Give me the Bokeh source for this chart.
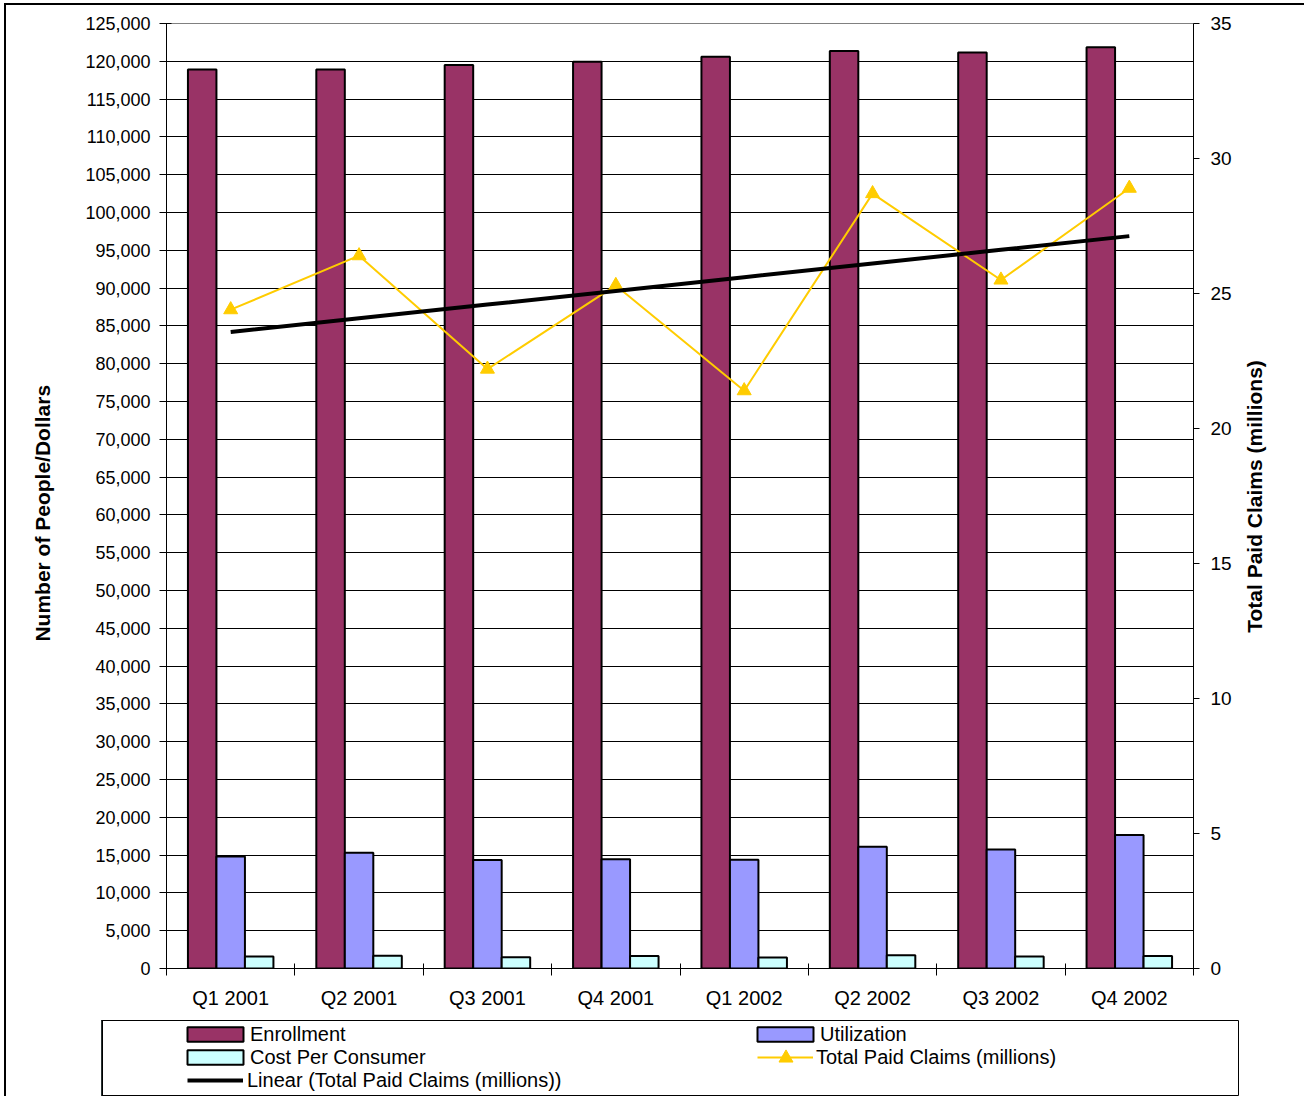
import math
import numpy as np
from bokeh.plotting import figure
from bokeh.models import (Range1d, LinearAxis, FixedTicker, NumeralTickFormatter, Legend,
                          LegendItem, ColumnDataSource, Spacer, Grid, Label)
from bokeh.layouts import column, row
from bokeh.transform import dodge
from bokeh.embed import file_html
from bokeh.resources import INLINE

# ---------------- data ----------------
categories = ["Q1 2001", "Q2 2001", "Q3 2001", "Q4 2001", "Q1 2002", "Q2 2002", "Q3 2002", "Q4 2002"]
enrollment = [118900, 118900, 119500, 119950, 120600, 121350, 121150, 121850]
utilization = [14800, 15300, 14350, 14450, 14400, 16100, 15750, 17650]
cost_per_consumer = [1600, 1700, 1500, 1650, 1450, 1750, 1600, 1650]
total_paid_claims = [24.4, 26.4, 22.2, 25.3, 21.4, 28.7, 25.5, 28.9]
left_ticks = list(range(0, 125001, 5000))
right_ticks = [0, 5, 10, 15, 20, 25, 30, 35]
left_title = "Number of People/Dollars"
right_title = "Total Paid Claims (millions)"

# ---------------- styles ----------------
FONT = "Liberation Sans"
C_ENR = "#993366"
C_UTIL = "#9999FF"
C_COST = "#CCFFFF"
C_CLAIMS = "#FFCC00"
H = 1015

n = len(categories)
xc = np.arange(n) + 0.5
idx = np.arange(1, n + 1)
coef = np.polyfit(idx, total_paid_claims, 1)
trend = np.polyval(coef, idx)

source = ColumnDataSource(dict(x=xc, enrollment=enrollment, utilization=utilization,
                               cost=cost_per_consumer, claims=total_paid_claims, trend=trend))

p = figure(width=1160, height=H, x_range=Range1d(0, n), y_range=Range1d(0, 125000),
           x_axis_type=None, y_axis_type=None, output_backend="svg", toolbar_location=None,
           min_border_left=88, min_border_right=45, min_border_top=18, min_border_bottom=52)
p.extra_y_ranges = {"claims": Range1d(0, 35)}
p.outline_line_color = "#808080"
p.background_fill_color = "white"
p.border_fill_color = "white"

# grid
p.add_layout(Grid(dimension=1, ticker=FixedTicker(ticks=left_ticks), grid_line_color="black",
                  grid_line_width=1))

# axes
xaxis = LinearAxis(ticker=FixedTicker(ticks=list(xc), minor_ticks=list(range(n + 1))),
                   major_label_overrides={float(x): c for x, c in zip(xc, categories)})
xaxis.major_tick_line_color = None
xaxis.minor_tick_line_color = "black"
xaxis.minor_tick_in = 5
xaxis.minor_tick_out = 7
xaxis.axis_line_color = "black"
xaxis.major_label_text_font = FONT
xaxis.major_label_text_font_size = "20px"
xaxis.major_label_text_color = "black"
xaxis.major_label_standoff = 11
p.add_layout(xaxis, "below")

yaxis = LinearAxis(ticker=FixedTicker(ticks=left_ticks), formatter=NumeralTickFormatter(format="0,0"))
yaxis.major_tick_in = 5
yaxis.major_tick_out = 7
yaxis.minor_tick_line_color = None
yaxis.major_tick_line_color = "black"
yaxis.axis_line_color = "black"
yaxis.major_label_text_font = FONT
yaxis.major_label_text_font_size = "18px"
yaxis.major_label_text_color = "black"
yaxis.major_label_standoff = 9
p.add_layout(yaxis, "left")

raxis = LinearAxis(y_range_name="claims", ticker=FixedTicker(ticks=right_ticks))
raxis.major_tick_in = 0
raxis.major_tick_out = 6
raxis.minor_tick_line_color = None
raxis.major_tick_line_color = "black"
raxis.axis_line_color = "black"
raxis.major_label_text_font = FONT
raxis.major_label_text_font_size = "19px"
raxis.major_label_text_color = "black"
raxis.major_label_standoff = 11
p.add_layout(raxis, "right")

# bars
bw = 0.222
p.vbar(x=dodge("x", -bw, range=p.x_range), top="enrollment", width=bw, source=source,
       fill_color=C_ENR, line_color="black", line_width=2)
p.vbar(x=dodge("x", 0, range=p.x_range), top="utilization", width=bw, source=source,
       fill_color=C_UTIL, line_color="black", line_width=2)
p.vbar(x=dodge("x", bw, range=p.x_range), top="cost", width=bw, source=source,
       fill_color=C_COST, line_color="black", line_width=2)

# claims line + trend
p.line(x="x", y="claims", source=source, y_range_name="claims", line_color=C_CLAIMS, line_width=2)
p.scatter(x="x", y="claims", source=source, y_range_name="claims", marker="triangle", size=14,
          fill_color=C_CLAIMS, line_color=C_CLAIMS)
p.line(x="x", y="trend", source=source, y_range_name="claims", line_color="black", line_width=4)


# ---------------- side strips holding the axis titles ----------------
def title_strip(width, text, cx, cy):
    f = figure(width=width, height=H, x_range=Range1d(0, width), y_range=Range1d(0, H),
               x_axis_type=None, y_axis_type=None, output_backend="svg", toolbar_location=None,
               min_border_left=0, min_border_right=0, min_border_top=0, min_border_bottom=0)
    f.outline_line_color = None
    f.add_layout(Label(text=text, x=cx, y=cy, angle=math.pi / 2, text_align="center",
                       text_baseline="middle", text_font=FONT, text_font_size="21px",
                       text_font_style="bold", text_color="black"))
    return f


left_strip = title_strip(72, left_title, 36, 489)
right_strip = title_strip(66, right_title, 16, 507)

# ---------------- legend box ----------------
# the legend panel views a range far away from the data, so its renderers only show in the legend
lf = figure(width=1138, height=76, x_range=Range1d(1000, 1001), y_range=Range1d(1000, 1001),
            x_axis_type=None, y_axis_type=None, output_backend="svg", toolbar_location=None,
            min_border_left=0, min_border_right=0, min_border_top=0, min_border_bottom=0)
lf.outline_line_color = "black"
lf.outline_line_width = 1

r_e = lf.vbar(x="x", top="enrollment", width=bw, source=source, fill_color=C_ENR,
              line_color="black", line_width=2)
r_u = lf.vbar(x="x", top="utilization", width=bw, source=source, fill_color=C_UTIL,
              line_color="black", line_width=2)
r_c = lf.vbar(x="x", top="cost", width=bw, source=source, fill_color=C_COST,
              line_color="black", line_width=2)
r_l = lf.line(x="x", y="claims", source=source, line_color=C_CLAIMS, line_width=2)
r_m = lf.scatter(x="x", y="claims", source=source, marker="triangle", size=14,
                 fill_color=C_CLAIMS, line_color=C_CLAIMS)
r_t = lf.line(x="x", y="trend", source=source, line_color="black", line_width=4)


def make_legend(items, loc, gw, gh, standoff, lh=23):
    lg = Legend(items=items, location=loc, orientation="vertical", glyph_width=gw, glyph_height=gh,
                label_standoff=standoff, label_height=lh, spacing=0, padding=0, margin=0,
                border_line_color=None, background_fill_alpha=0,
                label_text_font=FONT, label_text_font_size="20px", label_text_color="black")
    lf.add_layout(lg)
    return lg


make_legend([LegendItem(label="Enrollment", renderers=[r_e]),
             LegendItem(label="Cost Per Consumer", renderers=[r_c])], (79, 27.5), 70, 18, -6)
make_legend([LegendItem(label="Linear (Total Paid Claims (millions))", renderers=[r_t])],
            (86, 4.5), 56, 18, 4)
make_legend([LegendItem(label="Utilization", renderers=[r_u])], (649, 50.5), 70, 18, -6)
make_legend([LegendItem(label="Total Paid Claims (millions)", renderers=[r_l])],
            (656, 27.5), 56, 18, 3)
# larger triangle marker drawn over the centre of the claims swatch
make_legend([LegendItem(label=" ", renderers=[r_m])], (666.5, 21.5), 35, 35, 0, lh=10)

root = column(row(left_strip, p, right_strip), row(Spacer(width=95, height=76), lf),
              margin=(3, 0, 0, 4),
              styles={"border-top": "2px solid black", "border-left": "2px solid black"})

open("out.html", "w").write(file_html(root, INLINE))
